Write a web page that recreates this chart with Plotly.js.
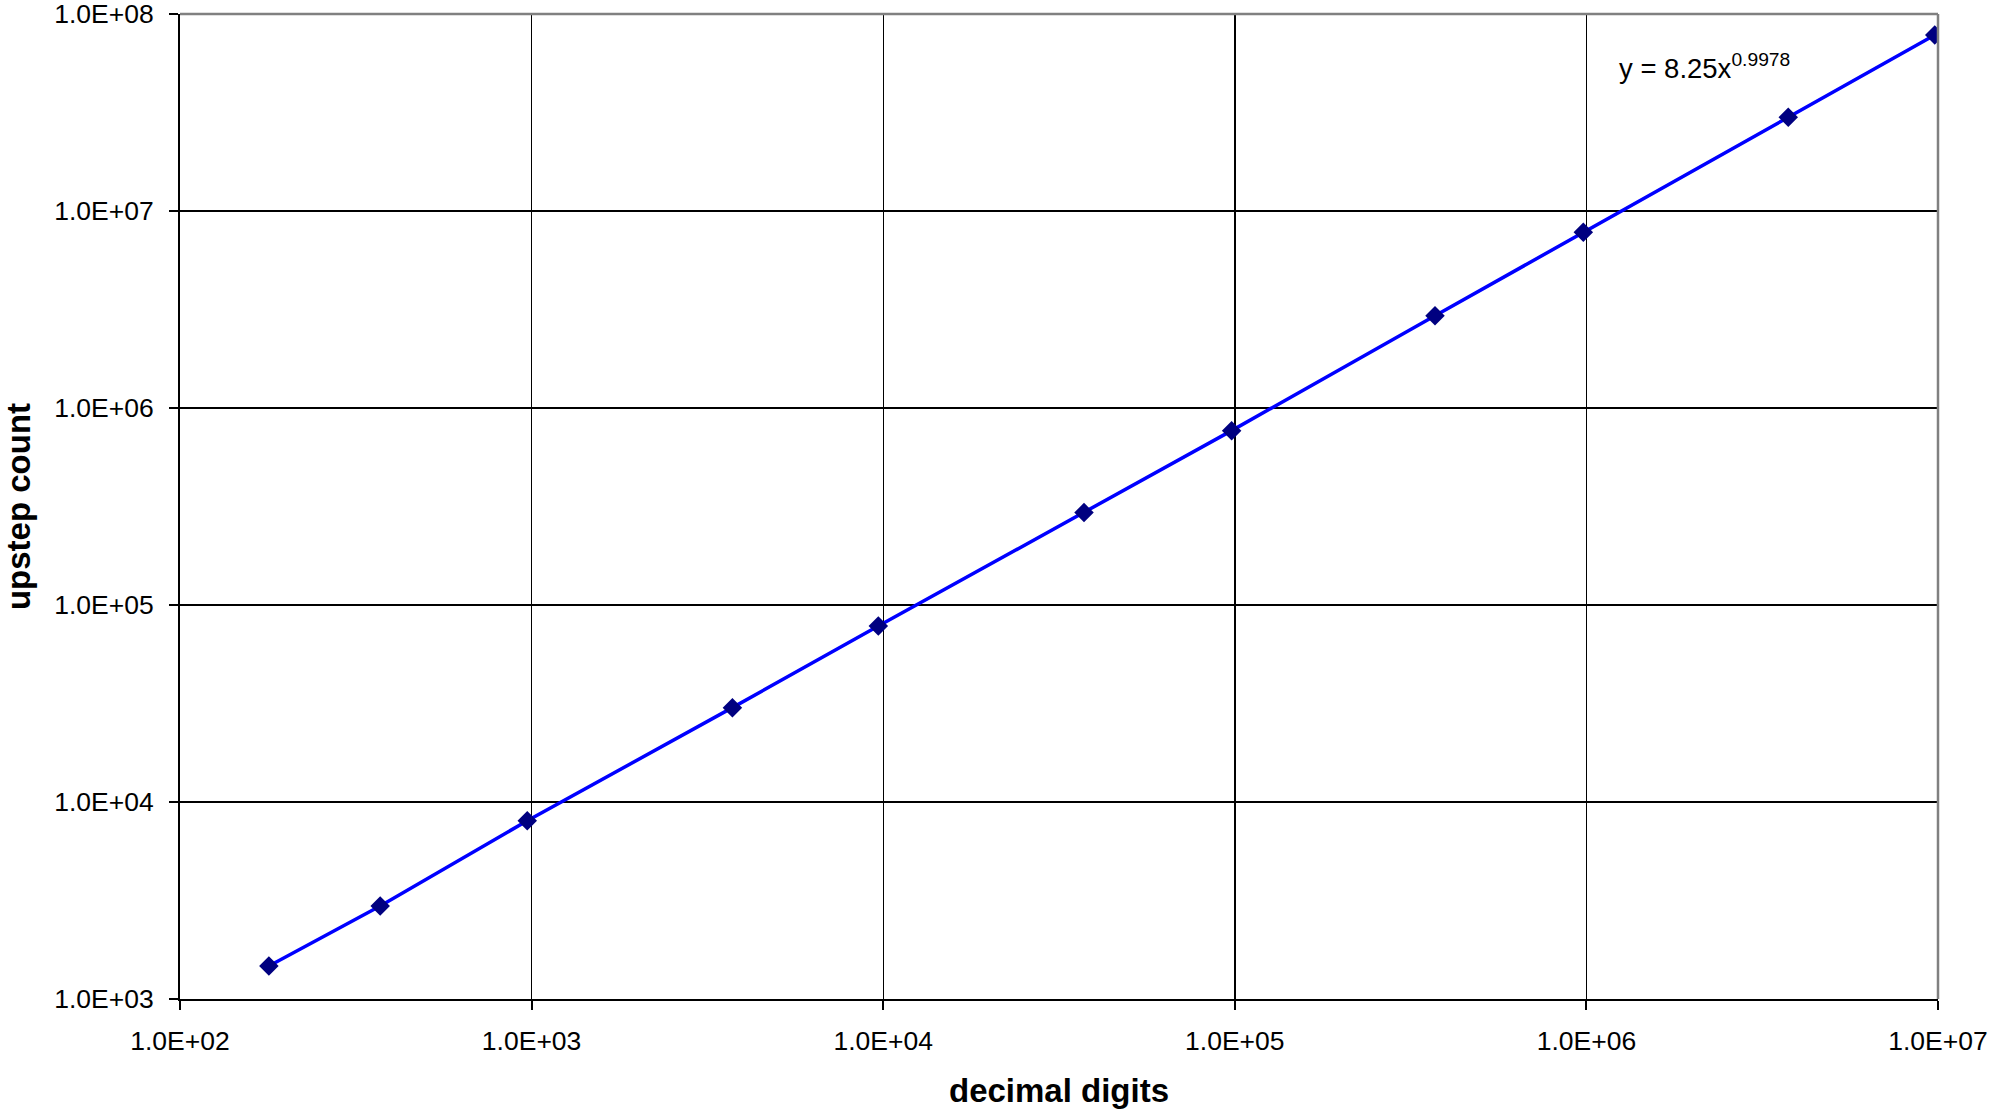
<!DOCTYPE html>
<html>
<head>
<meta charset="utf-8">
<script src="https://cdn.plot.ly/plotly-3.0.1.min.js"></script>
<style>html,body{margin:0;padding:0;background:#fff;}#chart{width:1993px;height:1109px;}</style>
</head>
<body>
<div id="chart"></div>
<script>
const decimalDigits = [179, 371, 972, 3725, 9685, 37250, 97950, 371000, 980000, 3750000, 9790000];
const upstepCount = [1472, 2967, 8035, 30130, 78200, 294500, 767500, 2940000, 7800000, 29900000, 78200000];
const xTickVals = [1e2, 1e3, 1e4, 1e5, 1e6, 1e7];
const xTickText = ["1.0E+02", "1.0E+03", "1.0E+04", "1.0E+05", "1.0E+06", "1.0E+07"];
const yTickVals = [1e3, 1e4, 1e5, 1e6, 1e7, 1e8];
const yTickText = ["1.0E+03", "1.0E+04", "1.0E+05", "1.0E+06", "1.0E+07", "1.0E+08"];
const trendText = "y = 8.25x<sup>0.9978</sup>";

const font = "Liberation Sans, Arial, sans-serif";

const trace = {
  x: decimalDigits,
  y: upstepCount,
  type: "scatter",
  mode: "lines+markers",
  line: {color: "#0000FF", width: 3.5},
  marker: {symbol: "diamond", size: 15, color: "#000080", line: {width: 0}},
  showlegend: false,
  hoverinfo: "x+y"
};

const layout = {
  width: 1993,
  height: 1109,
  paper_bgcolor: "#ffffff",
  plot_bgcolor: "#ffffff",
  margin: {l: 180, r: 55, t: 14, b: 110, pad: 0},
  font: {family: font, color: "#000"},
  xaxis: {
    type: "log",
    range: [2, 7],
    tickvals: xTickVals,
    ticktext: xTickText,
    tickfont: {size: 26.5, family: font, color: "#000"},
    ticks: "outside",
    ticklen: 9,
    tickwidth: 2,
    tickcolor: "#000",
    ticklabelstandoff: 8,
    ticklabeloverflow: "allow",
    showgrid: true,
    gridcolor: "#000",
    gridwidth: 1.4,
    showline: true,
    linecolor: "#000",
    linewidth: 2,
    zeroline: false,
    title: {text: "<b>decimal digits</b>", font: {size: 33, family: font, color: "#000"}, standoff: 26}
  },
  yaxis: {
    type: "log",
    range: [3, 8],
    tickvals: yTickVals,
    ticktext: yTickText,
    tickfont: {size: 26.5, family: font, color: "#000"},
    ticks: "outside",
    ticklen: 9,
    tickwidth: 2,
    tickcolor: "#000",
    ticklabelstandoff: 10,
    ticklabeloverflow: "allow",
    showgrid: true,
    gridcolor: "#000",
    gridwidth: 1.4,
    showline: true,
    linecolor: "#000",
    linewidth: 2,
    zeroline: false,
    title: {text: "<b>upstep count</b>", font: {size: 33, family: font, color: "#000"}, standoff: 16}
  },
  shapes: [
    {type: "line", xref: "paper", yref: "paper", x0: 0, x1: 1, y0: 1, y1: 1, line: {color: "#808080", width: 2.5}, layer: "above"},
    {type: "line", xref: "paper", yref: "paper", x0: 1, x1: 1, y0: 0, y1: 1, line: {color: "#808080", width: 2.5}, layer: "above"}
  ],
  annotations: [
    {
      text: trendText,
      xref: "paper", yref: "paper",
      x: 0.8175, y: 0.966,
      xanchor: "left", yanchor: "top",
      showarrow: false,
      font: {size: 27.5, family: font, color: "#000"}
    }
  ]
};

Plotly.newPlot("chart", [trace], layout, {displayModeBar: false, staticPlot: true});
</script>
</body>
</html>
